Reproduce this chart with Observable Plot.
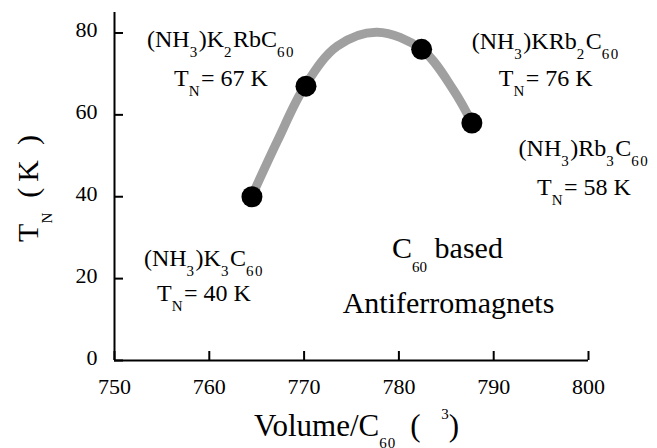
<!DOCTYPE html>
<html><head><meta charset="utf-8">
<script src="https://cdn.jsdelivr.net/npm/d3@7"></script>
<script src="https://cdn.jsdelivr.net/npm/@observablehq/plot@0.6"></script>
<style>
html,body{margin:0;padding:0;background:#fff;}
</style>
</head><body><div id="chart"></div>
<script>
// ---- data ----
const volumes = [764.5, 770.2, 782.4, 787.7];
const tnValues = [40, 67, 76, 58];
const compounds = ["(NH_{3})K_{3}C_{60}", "(NH_{3})K_{2}RbC_{60}", "(NH_{3})KRb_{2}C_{60}", "(NH_{3})Rb_{3}C_{60}"];
const tnLabels = ["T_{N}= 40 K", "T_{N}= 67 K", "T_{N}= 76 K", "T_{N}= 58 K"];
const curveVolumes = [764.5, 767.2, 770.1, 773.5, 777.7, 782.4, 785.8, 787.7];
const curveTn = [40.2, 53.7, 67.1, 76.8, 80.2, 76.0, 65.9, 58.1];
const xTicks = [750, 760, 770, 780, 790, 800];
const yTicks = [0, 20, 40, 60, 80];
const xTitle = "Volume/C_{60}\u2009 (\u2002\u2006^{3})";
const yTitle = "T_{N}\u2002(\u2009K\u2002)";
const noteLines = ["C_{60} based", "Antiferromagnets"];

// ---- tables built from the arrays ----
const points = volumes.map((v, i) => ({volume: v, tn: tnValues[i], compound: compounds[i], label: tnLabels[i]}));
const curve = curveVolumes.map((v, i) => ({volume: v, tn: curveTn[i]}));

// label offsets (pixels) relative to each point: [dx, dy line1, dy line2]
const labelOffsets = [[-48, 69, 104], [-85, -39, 0], [124, 0, 37], [112, 33, 72]];

const W = 657, H = 448;
const mL = 114, mR = 69, mT = 12, mB = 88;
const frameW = W - mL - mR, frameH = H - mT - mB;
const font = '"Liberation Serif", "Times New Roman", serif';

const labelMarks = [];
points.forEach((p, i) => {
  const [dx, dy1, dy2] = labelOffsets[i];
  labelMarks.push(Plot.text([p], {x: "volume", y: "tn", text: "compound", dx, dy: dy1, textAnchor: "middle", lineAnchor: "bottom", fontSize: 24, fill: "black"}));
  labelMarks.push(Plot.text([p], {x: "volume", y: "tn", text: "label", dx, dy: dy2, textAnchor: "middle", lineAnchor: "bottom", fontSize: 24, fill: "black"}));
});

const svg = Plot.plot({
  width: W, height: H,
  marginLeft: mL, marginRight: mR, marginTop: mT, marginBottom: mB,
  style: {fontFamily: font, background: "white", color: "black", overflow: "visible"},
  x: {domain: [750, 800], label: null, axis: null},
  y: {domain: [0, 85], label: null, axis: null},
  marks: [
    Plot.line(curve, {x: "volume", y: "tn", curve: "catmull-rom", stroke: "#a0a0a0", strokeWidth: 9}),
    Plot.dot(points, {x: "volume", y: "tn", r: 10.5, fill: "black", stroke: "none"}),
    Plot.ruleX([750], {stroke: "black", strokeWidth: 2}),
    Plot.ruleY([0], {stroke: "black", strokeWidth: 2}),
    Plot.tickX(xTicks, {x: d => d, insetTop: frameH - 9, stroke: "black", strokeWidth: 2}),
    Plot.tickY(yTicks, {y: d => d, insetRight: frameW - 9, stroke: "black", strokeWidth: 2}),
    Plot.text(xTicks, {x: d => d, text: d => String(d), frameAnchor: "bottom", textAnchor: "middle", lineAnchor: "top", dy: 18, fontSize: 22, fill: "black"}),
    Plot.text(yTicks, {y: d => d, text: d => String(d), frameAnchor: "left", textAnchor: "end", lineAnchor: "middle", dx: -17, dy: -3, fontSize: 22, fill: "black"}),
    ...labelMarks,
    Plot.text([xTitle], {frameAnchor: "bottom", text: d => d, textAnchor: "middle", lineAnchor: "bottom", dx: 5, dy: 75, fontSize: 31, fill: "black"}),
    Plot.text([yTitle], {frameAnchor: "left", text: d => d, rotate: -90, textAnchor: "middle", lineAnchor: "bottom", dx: -77, dy: 2, fontSize: 30, fill: "black"}),
    Plot.text([noteLines[0]], {frameAnchor: "bottom", text: d => d, textAnchor: "middle", lineAnchor: "bottom", dx: 96, dy: -103, fontSize: 30, fill: "black"}),
    Plot.text([noteLines[1]], {frameAnchor: "bottom", text: d => d, textAnchor: "middle", lineAnchor: "bottom", dx: 97, dy: -48, fontSize: 30, fill: "black"})
  ]
});

document.getElementById("chart").appendChild(svg);

// ---- turn _{..} / ^{..} markers into real sub/superscript tspans ----
function richify(el, opts) {
  const raw = el.textContent;
  el.textContent = "";
  let offset = 0;
  for (const m of raw.matchAll(/([_^])\{([^}]*)\}|([^_^]+)/g)) {
    const t = d3.select(el).append("tspan");
    let target = 0;
    if (m[1] === "_") {
      target = opts.sub;
      t.attr("font-size", opts.size).attr("letter-spacing", opts.spacing || 0).text(m[2]);
    } else if (m[1] === "^") {
      target = -opts.sup;
      t.attr("font-size", opts.size).text(m[2]);
    } else {
      t.text(m[3]);
    }
    if (target - offset !== 0) t.attr("dy", target - offset);
    offset = target;
  }
}
d3.select(svg).selectAll("text").each(function() {
  const raw = this.textContent;
  if (!/[_^]\{/.test(raw)) return;
  const fs = parseFloat(getComputedStyle(this).fontSize);
  if (raw.startsWith("Volume")) richify(this, {size: 15, sub: 12, sup: 17, spacing: 1});
  else if (fs >= 28) richify(this, {size: 15, sub: 14, sup: 17});
  else richify(this, {size: 15, sub: 10, spacing: 1.5});
});
</script>
</body></html>
